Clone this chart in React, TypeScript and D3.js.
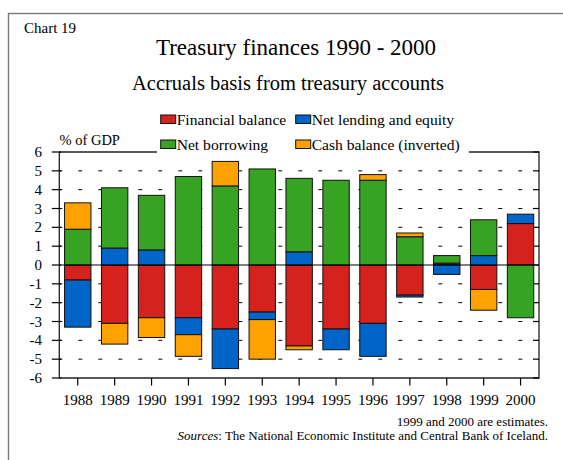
import React, { useRef, useEffect } from "react";
import * as d3 from "d3";

const years = ["1988", "1989", "1990", "1991", "1992", "1993", "1994", "1995", "1996", "1997", "1998", "1999", "2000"];
const financialBalance = [-0.8, -3.1, -2.8, -2.8, -3.4, -2.5, -4.3, -3.4, -3.1, -1.6, 0.1, -1.3, 2.2];
const netLending = [-2.5, 0.9, 0.8, -0.9, -2.1, -0.4, 0.7, -1.1, -1.75, -0.1, -0.5, 0.5, 0.5];
const netBorrowing = [1.9, 3.2, 2.9, 4.7, 4.2, 5.1, 3.9, 4.5, 4.5, 1.5, 0.4, 1.9, -2.8];
const cashBalance = [1.4, -1.1, -1.05, -1.15, 1.3, -2.1, -0.2, 0, 0.3, 0.2, 0, -1.1, 0];
const yTicks = [-6, -5, -4, -3, -2, -1, 0, 1, 2, 3, 4, 5, 6];

const seriesKeys = ["fin", "lend", "borrow", "cash"];
const seriesNames = ["Financial balance", "Net lending and equity", "Net borrowing", "Cash balance (inverted)"];
const colors = ["#d6221c", "#0064c8", "#36a323", "#ffa200"];

const W = 563;
const H = 460;

const Chart = () => {
  const ref = useRef<SVGSVGElement>(null);

  useEffect(() => {
    const root = d3.select(ref.current);
    root.selectAll("*").remove();
    const svg = root.attr("width", W).attr("height", H);
    const serif = "'Liberation Serif', 'Times New Roman', serif";

    const left = 59.3, right = 539, top = 152, bottom = 378;

    const x = d3.scaleBand<string>().domain(years).range([left, right]).padding(0);
    const y = d3.scaleLinear().domain([-6, 6]).range([bottom, top]);
    const barW = x.bandwidth() * 0.715;

    // outer frame (only top/left visible in the page)
    svg.append("rect")
      .attr("x", 8.5).attr("y", 13.5).attr("width", 700).attr("height", 600)
      .attr("fill", "white").attr("stroke", "#7a7a7a").attr("stroke-width", 1.4);

    svg.append("text").attr("x", 24).attr("y", 32.5)
      .attr("font-family", serif).attr("font-size", 15).text("Chart 19");
    svg.append("text").attr("x", 296).attr("y", 54.5).attr("text-anchor", "middle")
      .attr("font-family", serif).attr("font-size", 23).text("Treasury finances 1990 - 2000");
    svg.append("text").attr("x", 288).attr("y", 89.5).attr("text-anchor", "middle")
      .attr("font-family", serif).attr("font-size", 20.5).text("Accruals basis from treasury accounts");

    // dashed gridlines
    svg.append("g").selectAll("line")
      .data(yTicks.filter((t) => t !== 0 && Math.abs(t) !== 6))
      .join("line")
      .attr("x1", left).attr("x2", right)
      .attr("y1", (d) => y(d)).attr("y2", (d) => y(d))
      .attr("stroke", "#000").attr("stroke-width", 1)
      .attr("stroke-dasharray", "4 16").attr("stroke-dashoffset", 1);

    // stacked bars
    const rows = years.map((yr, i) => ({
      year: yr,
      fin: financialBalance[i],
      lend: netLending[i],
      borrow: netBorrowing[i],
      cash: cashBalance[i],
    }));
    const stacked = d3.stack<any>().keys(seriesKeys).offset(d3.stackOffsetDiverging)(rows);

    stacked.forEach((layer, li) => {
      svg.append("g")
        .selectAll("rect")
        .data(layer.filter((d) => d[1] - d[0] !== 0))
        .join("rect")
        .attr("x", (d) => (x(d.data.year) as number) + (x.bandwidth() - barW) / 2)
        .attr("width", barW)
        .attr("y", (d) => y(Math.max(d[0], d[1])))
        .attr("height", (d) => Math.abs(y(d[0]) - y(d[1])))
        .attr("fill", colors[li])
        .attr("stroke", "#111")
        .attr("stroke-width", 1);
    });

    // zero line
    svg.append("line")
      .attr("x1", left).attr("x2", right).attr("y1", y(0)).attr("y2", y(0))
      .attr("stroke", "#000").attr("stroke-width", 1.2);

    // plot frame
    svg.append("path")
      .attr("d", `M${left},${top}V${bottom}H${right}V${top}H${left}`)
      .attr("fill", "none").attr("stroke", "#222").attr("stroke-width", 1.3);

    // y axis ticks and labels
    const yAxis = svg.append("g");
    yTicks.forEach((t) => {
      yAxis.append("line").attr("x1", left - 7.5).attr("x2", left + 2)
        .attr("y1", y(t)).attr("y2", y(t)).attr("stroke", "#000").attr("stroke-width", 1.2);
      yAxis.append("line").attr("x1", right - 6).attr("x2", right)
        .attr("y1", y(t)).attr("y2", y(t)).attr("stroke", "#000").attr("stroke-width", 1.2);
      yAxis.append("text").attr("x", 42).attr("y", y(t) + 5).attr("text-anchor", "end")
        .attr("font-family", serif).attr("font-size", 15).text(t);
    });

    // x axis ticks and labels
    const xAxis = svg.append("g");
    years.forEach((yr) => {
      const cx = (x(yr) as number) + x.bandwidth() / 2;
      xAxis.append("line").attr("x1", cx).attr("x2", cx).attr("y1", bottom).attr("y2", bottom + 7.5)
        .attr("stroke", "#000").attr("stroke-width", 1.2);
      xAxis.append("text").attr("x", cx).attr("y", 405).attr("text-anchor", "middle")
        .attr("font-family", serif).attr("font-size", 15).text(yr);
    });

    svg.append("text").attr("x", 59.5).attr("y", 144.5)
      .attr("font-family", serif).attr("font-size", 14.5).text("% of GDP");

    // legend (white box covers the top frame)
    const lg = svg.append("g");
    lg.append("rect").attr("x", 157).attr("y", 106).attr("width", 312).attr("height", 48)
      .attr("fill", "white");
    const legendPos = [
      [160.7, 115], [295.7, 115], [160.7, 140], [295.7, 140],
    ];
    seriesNames.forEach((name, i) => {
      const [lx, ly] = legendPos[i];
      lg.append("rect").attr("x", lx).attr("y", ly).attr("width", 15).attr("height", 8.5)
        .attr("fill", colors[i]).attr("stroke", "#111").attr("stroke-width", 1);
      lg.append("text").attr("x", lx + 16).attr("y", ly + 10)
        .attr("font-family", serif).attr("font-size", 15.6).text(name);
    });

    // notes
    svg.append("text").attr("x", 548).attr("y", 425.5).attr("text-anchor", "end")
      .attr("font-family", serif).attr("font-size", 13).text("1999 and 2000 are estimates.");
    const src = svg.append("text").attr("x", 548).attr("y", 439.5).attr("text-anchor", "end")
      .attr("font-family", serif).attr("font-size", 13);
    src.append("tspan").attr("font-style", "italic").text("Sources");
    src.append("tspan").text(": The National Economic Institute and Central Bank of Iceland.");
  }, []);

  return <svg ref={ref}></svg>;
};

export default function App() {
  return (
    <div style={{ position: "absolute", left: 0, top: 0, width: W, height: H, overflow: "hidden" }}>
      <Chart />
    </div>
  );
}
